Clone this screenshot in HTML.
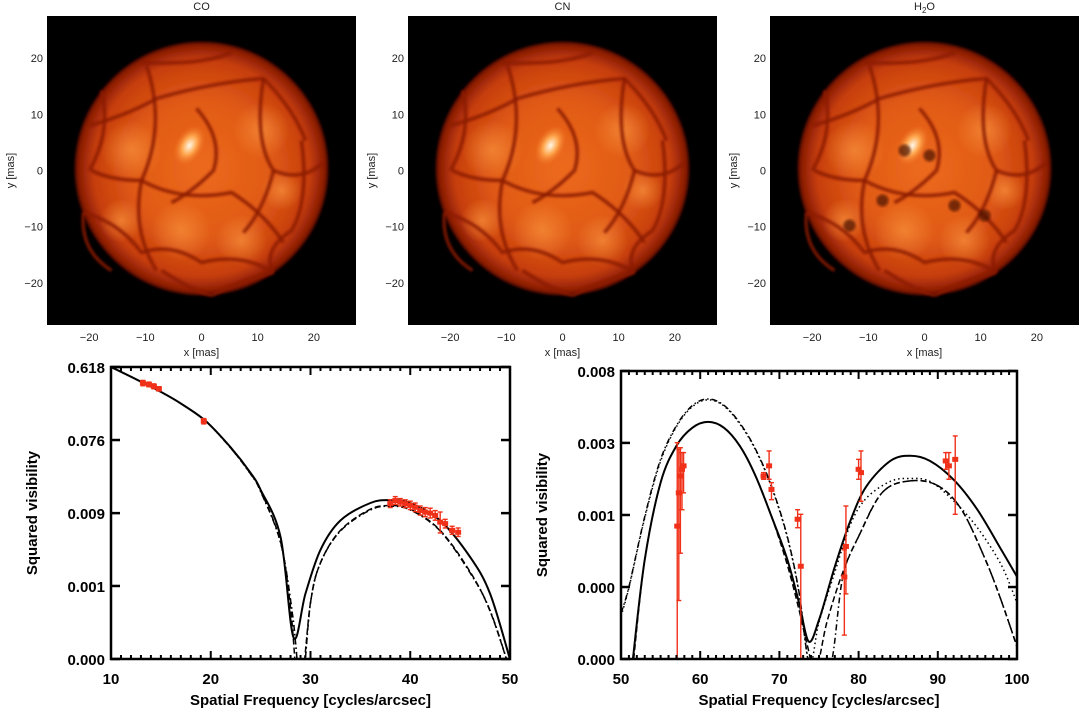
<!DOCTYPE html>
<html><head><meta charset="utf-8">
<style>
html,body{margin:0;padding:0;background:#fff;}
svg{display:block;font-family:"Liberation Sans",sans-serif;}
.il{font-size:11px;fill:#222;}
.bl{font-size:15px;font-weight:bold;fill:#000;}
</style></head>
<body>
<svg id="fig" width="1080" height="711" viewBox="0 0 1080 711">
<defs>
<radialGradient id="disk" cx="0.5" cy="0.5" r="0.5">
<stop offset="0" stop-color="#ec6a1c"/>
<stop offset="0.55" stop-color="#e05a16"/>
<stop offset="0.85" stop-color="#c63e0c"/>
<stop offset="0.97" stop-color="#8a1c04"/>
<stop offset="1" stop-color="#4a0800"/>
</radialGradient>
<radialGradient id="hot" cx="0.5" cy="0.5" r="0.5">
<stop offset="0" stop-color="#fff8e8"/>
<stop offset="0.45" stop-color="#ffa850"/>
<stop offset="1" stop-color="#f07020" stop-opacity="0"/>
</radialGradient>
<radialGradient id="warm" cx="0.5" cy="0.5" r="0.5">
<stop offset="0" stop-color="#f58a38" stop-opacity="0.8"/>
<stop offset="1" stop-color="#f58a38" stop-opacity="0"/>
</radialGradient>
<filter id="soft"><feGaussianBlur stdDeviation="1.3"/></filter>
<clipPath id="clipL"><rect x="111" y="367" width="399" height="292"/></clipPath>
<clipPath id="clipR"><rect x="621" y="371" width="396" height="288"/></clipPath>
</defs>
<g id="images"></g>
<g id="plotL"></g>
<g id="plotR"></g>
</svg>
<script>
// ---------- LEFT PLOT DATA (spatial frequency, squared visibility) ----------
const leftYTickLabels = ["0.618","0.076","0.009","0.001","0.000"];
const leftYTickValues = [0.618,0.0755,0.0092,0.00113,0.000138];
const leftXTicks = [10,20,30,40,50];
const leftSolidX = [10,13,15,17,19.5,22,24,25,27,28.3,29.5,31,33,36,38,40,43,46,48,50];
const leftSolidV = [0.618,0.405,0.302,0.216,0.130,0.061,0.0292,0.018,0.0046,0.000257,0.00091,0.0032,0.00745,0.0123,0.0134,0.0123,0.00745,0.0026,0.00091,0.000137];
const leftDashX = [10,13,15,17,19.5,22,24,25,27,28,28.9,30,31,33,36,38,40,43,46,48,50];
const leftDashV = [0.618,0.405,0.302,0.216,0.130,0.060,0.0285,0.0175,0.0040,0.0006,0.00005,0.0007,0.0022,0.0056,0.0103,0.0114,0.0103,0.0056,0.0017,0.00055,0.0001];
const leftDotX = [10,13,15,17,19.5,22,24,25,27,28.2,29.1,30,31,33,36,38,40,43,46,48,50];
const leftDotV = [0.618,0.405,0.302,0.216,0.130,0.060,0.0283,0.0172,0.0039,0.0005,0.00006,0.0007,0.0022,0.0055,0.0101,0.0112,0.0101,0.0055,0.00165,0.00056,0.0001];
const leftObsX = [13.2,13.8,14.3,14.8,19.3,38,38.5,39,39.5,40,40.5,41,41.5,42,42.5,43,43.5,44.2,44.8];
const leftObsV = [0.39,0.375,0.354,0.331,0.130,0.0121,0.0132,0.0126,0.0121,0.0115,0.0109,0.00993,0.00947,0.0092,0.0086,0.0071,0.0068,0.0056,0.0053];
const leftObsLo = [0.36,0.35,0.33,0.31,0.12,0.0108,0.0118,0.0113,0.0108,0.0102,0.0096,0.0087,0.0083,0.0080,0.0075,0.0052,0.0060,0.0050,0.0047];
const leftObsHi = [0.42,0.40,0.38,0.35,0.14,0.0135,0.0148,0.0140,0.0135,0.0130,0.0123,0.0113,0.0108,0.0106,0.0099,0.0095,0.0077,0.0063,0.0060];

// ---------- RIGHT PLOT DATA ----------
const rightYTickLabels = ["0.008","0.003","0.001","0.000","0.000"];
const rightYTickValues = [0.008,0.00286,0.00102,0.000364,0.00013];
const rightXTicks = [50,60,70,80,90,100];
const rightSolidX = [51.5,53,55,57,59,61,63,65,67,69,71,72.5,73.7,75,77,79,81,84,86.5,89,92,95,98,100];
const rightSolidV = [0.00013,0.00054,0.00162,0.00274,0.00355,0.00386,0.00355,0.00274,0.00178,0.001,0.00054,0.000288,0.000167,0.000227,0.000487,0.00095,0.00154,0.00221,0.00238,0.00221,0.00169,0.0011,0.000622,0.000422];
const rightDashX = [51.6,53,55,57,59,61,63,65,67,69,71,72.5,73.5,74.6,76,78,80,83,86.5,90,93,96,98,100];
const rightDashV = [0.00013,0.00054,0.00162,0.00274,0.00355,0.00386,0.00355,0.00274,0.00178,0.001,0.0005,0.00026,0.00016,0.00011,0.00022,0.00045,0.00075,0.00141,0.00166,0.00155,0.0011,0.00054,0.0003,0.000155];
const rightDashDotX = [50,51,53,55,57,59,61,63,65,67,69,71,72.5,73.5,74.5,76.5,78,80,83,86.5,90,93,96,98,100];
const rightDashDotV = [0.00025,0.000365,0.001,0.00226,0.00366,0.00488,0.00536,0.0049,0.0038,0.00261,0.00154,0.00075,0.000333,0.00014,0.0001,0.00012,0.00042,0.00075,0.00141,0.00166,0.00155,0.0011,0.00054,0.0003,0.000155];
const rightDotX = [50,51,53,55,57,59,61,63,65,67,69,71,72.5,73.8,75,77,79,81,84,86.5,89,92,95,98,100];
const rightDotV = [0.00024,0.00036,0.00098,0.0022,0.0036,0.0048,0.0053,0.00485,0.00375,0.00258,0.00152,0.00074,0.00033,0.00012,0.00022,0.00045,0.0009,0.0013,0.00165,0.00172,0.00165,0.00125,0.00085,0.0005,0.00029];
const rightObsX = [57.1,57.3,57.5,57.7,57.9,68.0,68.7,69.0,72.3,72.7,78.2,78.4,80.0,80.3,91.0,91.4,92.2];
const rightObsV = [0.00087,0.0014,0.00178,0.00196,0.00206,0.00178,0.00206,0.00147,0.00096,0.00049,0.00042,0.00065,0.00196,0.00187,0.00221,0.00206,0.00226];
const rightObsHi = [0.00287,0.00261,0.00267,0.00249,0.00249,0.00187,0.00255,0.00162,0.0011,0.00103,0.00062,0.00116,0.00226,0.00255,0.00249,0.00249,0.00316];
const rightObsLo = [0.0001,0.0003,0.00059,0.0011,0.0014,0.0017,0.0017,0.00127,0.00085,0.0001,0.000183,0.00033,0.0017,0.00124,0.00196,0.0017,0.00103];

const NS = "http://www.w3.org/2000/svg";
function mk(tag, attrs, parent){
  const e = document.createElementNS(NS, tag);
  for (const k in attrs) e.setAttribute(k, attrs[k]);
  if (parent) parent.appendChild(e);
  return e;
}

// ---------- IMAGES ----------
const imgG = document.getElementById('images');
const panels = [{x0:47,title:"CO"},{x0:408,title:"CN"},{x0:770,title:"H2O"}];
const cellPaths = [
 "M-55,-105 Q-35,-45 -60,10 Q-70,60 -45,100",
 "M-112,-45 Q-75,-55 -45,-72 Q10,-88 62,-92 Q92,-62 104,-30",
 "M-60,10 Q-20,32 30,22 Q62,42 82,72",
 "M-118,42 Q-82,52 -60,82 Q-30,72 0,92 Q40,82 72,102",
 "M62,-92 Q52,-30 72,0 Q62,40 42,62",
 "M72,0 Q100,12 122,-8",
 "M-100,-80 Q-90,-40 -112,0",
 "M-40,100 Q-10,120 10,125",
 "M-5,-62 Q22,-32 12,0 Q-10,22 -30,32",
 "M-110,0 Q-90,10 -60,10",
 "M100,-30 Q108,30 90,60 Q60,80 72,102",
 "M-60,-108 Q0,-105 30,-118",
 "M-118,42 Q-122,80 -90,100",
 "M10,125 Q40,110 72,102"
];
panels.forEach((p,i)=>{
  const g = mk('g',{},imgG);
  
  
  const S = 309, cx = p.x0+S/2, cy = 16+S/2, sc = S/55;
  mk('rect',{x:p.x0,y:16,width:S,height:S,fill:'#000'},g);
  mk('circle',{cx:cx,cy:cy-2,r:127,fill:'url(#disk)',filter:'url(#soft)'},g);
  [[-70,-20,30],[60,-40,28],[-20,60,30],[40,70,26],[-80,50,22],[80,20,20]].forEach(q=>mk('circle',{cx:cx+q[0],cy:cy+q[1],r:q[2],fill:'url(#warm)'},g));
  const cg = mk('g',{transform:`translate(${cx},${cy})`,fill:'none',stroke:'#8a1a04','stroke-width':3.5,'stroke-opacity':0.85,filter:'url(#soft)'},g);
  cellPaths.forEach(d=>mk('path',{d:d},cg));
  mk('ellipse',{cx:cx-12,cy:cy-25,rx:14,ry:22,fill:'url(#hot)',transform:`rotate(30 ${cx-12} ${cy-25})`},g);
  if (i===2){
    [[-42,30],[30,35],[60,45],[5,-15],[-75,55],[-20,-20]].forEach(q=>mk('circle',{cx:cx+q[0],cy:cy+q[1],r:6,fill:'#4a0c02','fill-opacity':0.7,filter:'url(#soft)'},g));
  }
  const t = mk('text',{x:cx,y:10,'text-anchor':'middle',class:'il'},g);
  if (p.title==="H2O"){ t.innerHTML = 'H<tspan font-size="8" dy="3">2</tspan><tspan dy="-3">O</tspan>'; }
  else t.textContent = p.title;
  
  
  [-20,-10,0,10,20].forEach(v=>{
    const tx = mk('text',{x:cx+v*sc,y:341,'text-anchor':'middle',class:'il'},g);
    tx.textContent = v<0 ? '\u2212'+(-v) : String(v);
    
    
    const ty = mk('text',{x:p.x0-4,y:cy-v*sc+4,'text-anchor':'end',class:'il'},g);
    ty.textContent = v<0 ? '\u2212'+(-v) : String(v);
    
    
  });
  const xl = mk('text',{x:cx,y:356,'text-anchor':'middle',class:'il'},g);
  xl.textContent = 'x [mas]';
  
  
  const yl = mk('text',{x:0,y:0,'text-anchor':'middle',class:'il',transform:`translate(${p.x0-33},${cy}) rotate(-90)`},g);
  yl.textContent = 'y [mas]';
  
  
});

// smooth path through points (Catmull-Rom)
function smooth(pts){
  let d = 'M'+pts[0][0].toFixed(1)+','+pts[0][1].toFixed(1);
  for (let i=0;i<pts.length-1;i++){
    const p0 = pts[Math.max(0,i-1)], p1 = pts[i], p2 = pts[i+1], p3 = pts[Math.min(pts.length-1,i+2)];
    const c1x = p1[0]+(p2[0]-p0[0])/6, c1y = p1[1]+(p2[1]-p0[1])/6;
    const c2x = p2[0]-(p3[0]-p1[0])/6, c2y = p2[1]-(p3[1]-p1[1])/6;
    d += ` C${c1x.toFixed(1)},${c1y.toFixed(1)} ${c2x.toFixed(1)},${c2y.toFixed(1)} ${p2[0].toFixed(1)},${p2[1].toFixed(1)}`;
  }
  return d;
}

// ---------- PLOTS ----------
function makePlot(gid, box, xmin, xmax, xTicks, yTickVals, yTickLabels, series, obs, clipId){
  const g = document.getElementById(gid);
  const lt = Math.log10(yTickVals[0]), lb = Math.log10(yTickVals[yTickVals.length-1]);
  const X = v => box.x + (v-xmin)/(xmax-xmin)*box.w;
  const Y = v => box.y + (lt-Math.log10(v))/(lt-lb)*box.h;
  const cg = mk('g',{'clip-path':`url(#${clipId})`},g);
  series.forEach(s=>{
    const pts = s.x.map((xv,i)=>[X(xv),Y(s.v[i])]);
    const p = mk('path',{d:smooth(pts),fill:'none',stroke:'#000','stroke-width':s.w,'stroke-dasharray':s.dash,'stroke-linejoin':'round'},cg);
    
    
  });
  obs.x.forEach((xv,i)=>{
    const px = X(xv);
    const e = mk('g',{stroke:'#f03018','stroke-width':1.4},cg);
    
    
    mk('line',{x1:px,x2:px,y1:Y(obs.lo[i]),y2:Y(obs.hi[i])},e);
    mk('line',{x1:px-2.5,x2:px+2.5,y1:Y(obs.lo[i]),y2:Y(obs.lo[i])},e);
    mk('line',{x1:px-2.5,x2:px+2.5,y1:Y(obs.hi[i]),y2:Y(obs.hi[i])},e);
    mk('rect',{x:px-3,y:Y(obs.v[i])-2.5,width:6,height:5,fill:'#f03018',stroke:'none'},e);
  });
  const fr = mk('rect',{x:box.x,y:box.y,width:box.w,height:box.h,fill:'none',stroke:'#000','stroke-width':2.5},g);
  
  
  for (let v=xmin; v<=xmax; v+=1){
    const px = X(v), major = (v-xmin)%10===0;
    const L = major?8:4;
    mk('line',{x1:px,x2:px,y1:box.y+box.h,y2:box.y+box.h-L,stroke:'#000','stroke-width':2},g);
    mk('line',{x1:px,x2:px,y1:box.y,y2:box.y+L,stroke:'#000','stroke-width':2},g);
  }
  xTicks.forEach(v=>{
    const t = mk('text',{x:X(v),y:box.y+box.h+25,'text-anchor':'middle',class:'bl'},g);
    t.textContent = String(v);
    
    
  });
  yTickVals.forEach((v,i)=>{
    const py = Y(v);
    mk('line',{x1:box.x,x2:box.x+9,y1:py,y2:py,stroke:'#000','stroke-width':2.5},g);
    mk('line',{x1:box.x+box.w,x2:box.x+box.w-9,y1:py,y2:py,stroke:'#000','stroke-width':2.5},g);
    const t = mk('text',{x:box.x-6,y:py+6,'text-anchor':'end',class:'bl'},g);
    t.textContent = yTickLabels[i];
    
    
  });
  const xt = mk('text',{x:box.x+box.w/2,y:box.y+box.h+46,'text-anchor':'middle',class:'bl'},g);
  xt.textContent = 'Spatial Frequency [cycles/arcsec]';
  
  
  const yt = mk('text',{x:0,y:0,'text-anchor':'middle',class:'bl',transform:`translate(${box.x-74},${box.y+box.h/2}) rotate(-90)`},g);
  yt.textContent = 'Squared visibility';
  
  
}

makePlot('plotL',{x:111,y:367,w:399,h:292},10,50,leftXTicks,leftYTickValues,leftYTickLabels,[
  {name:'model-dotted',x:leftDotX,v:leftDotV,w:1.5,dash:'1.5,3'},
  {name:'model-dashdot',x:leftDotX,v:leftDotV,w:1.5,dash:'6,3,1.5,3'},
  {name:'model-dashed',x:leftDashX,v:leftDashV,w:1.5,dash:'6,3'},
  {name:'model-solid',x:leftSolidX,v:leftSolidV,w:2,dash:'none'}
],{x:leftObsX,v:leftObsV,lo:leftObsLo,hi:leftObsHi},'clipL');

makePlot('plotR',{x:621,y:371,w:396,h:288},50,100,rightXTicks,rightYTickValues,rightYTickLabels,[
  {name:'model-dotted',x:rightDotX,v:rightDotV,w:1.5,dash:'1.5,3'},
  {name:'model-dashdot',x:rightDashDotX,v:rightDashDotV,w:1.5,dash:'6,3,1.5,3'},
  {name:'model-dashed',x:rightDashX,v:rightDashV,w:1.5,dash:'6,3'},
  {name:'model-solid',x:rightSolidX,v:rightSolidV,w:2,dash:'none'}
],{x:rightObsX,v:rightObsV,lo:rightObsLo,hi:rightObsHi},'clipR');
</script>
</body></html>
